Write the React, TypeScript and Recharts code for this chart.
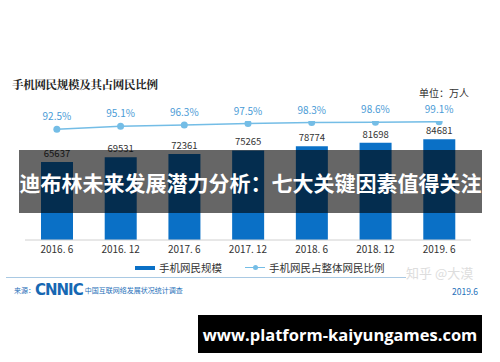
import React from "react";
import { ComposedChart, Bar, Line, XAxis, YAxis, LabelList } from "recharts";

const periods = ["2016. 6", "2016. 12", "2017. 6", "2017. 12", "2018. 6", "2018. 12", "2019. 6"];
const mobileUsers = [65637, 69531, 72361, 75265, 78774, 81698, 84681];
const mobileShare = [92.5, 95.1, 96.3, 97.5, 98.3, 98.6, 99.1];

const data = periods.map((p, i) => ({
  period: p,
  users: mobileUsers[i],
  share: mobileShare[i],
}));

const CJK = '"Noto Sans CJK SC", "Noto Sans", sans-serif';
const BAR = "#0a70c6";
const LINE = "#74bde6";

export default function App() {
  return (
    <div
      style={{
        position: "absolute",
        left: 0,
        top: 0,
        width: 500,
        height: 362,
        background: "#fff",
        overflow: "hidden",
        fontFamily: CJK,
      }}
    >
      <div
        style={{
          position: "absolute",
          left: 12,
          top: 76,
          fontSize: 11.5,
          fontWeight: 700,
          color: "#222",
          fontFamily: '"Noto Serif CJK SC", "Noto Sans CJK SC", serif',
          letterSpacing: -0.3,
        }}
      >
        手机网民规模及其占网民比例
      </div>
      <div style={{ position: "absolute", left: 419, top: 85, fontSize: 10, color: "#333" }}>
        单位：万人
      </div>

      <ComposedChart
        width={500}
        height={362}
        data={data}
        margin={{ top: 121, right: 29, bottom: 102, left: 25 }}
        style={{ position: "absolute", left: 0, top: 0 }}
      >
        <XAxis
          dataKey="period"
          axisLine={{ stroke: "#d0d0d0" }}
          tickLine={false}
          tickSize={0}
          tickMargin={6}
          height={20}
          interval={0}
          tick={{ fontSize: 10, fill: "#333", fontFamily: CJK }}
        />
        <YAxis yAxisId="users" hide domain={[0, 100000]} />
        <YAxis yAxisId="share" hide orientation="right" domain={[-3.8, 99.7]} allowDataOverflow />
        <Bar yAxisId="users" dataKey="users" fill={BAR} barSize={32} isAnimationActive={false}>
          <LabelList dataKey="users" position="top" offset={5} fill="#333" fontSize={9.5} fontFamily={CJK} />
        </Bar>
        <Line
          yAxisId="share"
          dataKey="share"
          stroke={LINE}
          strokeWidth={1.5}
          dot={{ r: 3.5, fill: LINE, stroke: LINE, strokeWidth: 0 }}
          isAnimationActive={false}
        >
          <LabelList
            dataKey="share"
            position="top"
            offset={9}
            fill="#4a9bd6"
            fontSize={10}
            fontFamily={CJK}
            formatter={(v: number) => `${v}%`}
          />
        </Line>
      </ComposedChart>

      {/* legend */}
      <div style={{ position: "absolute", left: 135, top: 260, display: "flex", alignItems: "center", fontSize: 10.5, color: "#333" }}>
        <span style={{ display: "inline-block", width: 20, height: 4, background: BAR, marginRight: 4 }} />
        <span>手机网民规模</span>
        <span style={{ position: "relative", display: "inline-block", width: 20, height: 1.5, background: LINE, marginLeft: 23, marginRight: 4 }}>
          <span style={{ position: "absolute", left: 8, top: -2, width: 5, height: 5, borderRadius: 3, background: LINE }} />
        </span>
        <span>手机网民占整体网民比例</span>
      </div>

      {/* footer */}
      <div style={{ position: "absolute", left: 6, top: 277, width: 400, height: 1, background: "#a9c9e3" }} />
      <div style={{ position: "absolute", left: 14, top: 281, display: "flex", alignItems: "center", color: "#1e6fb9" }}>
        <span style={{ fontSize: 7 }}>来源：</span>
        <span style={{ fontSize: 15, fontWeight: 900, fontFamily: '"DejaVu Sans", sans-serif', letterSpacing: -1, marginRight: 2, color: "#1668b3" }}>
          CNNIC
        </span>
        <span style={{ fontSize: 7 }}>中国互联网络发展状况统计调查</span>
      </div>
      <div style={{ position: "absolute", left: 406, top: 265, fontSize: 13, lineHeight: "15px", color: "#ddd" }}>知乎 @大漠</div>
      <div style={{ position: "absolute", left: 452, top: 286, fontSize: 8.5, lineHeight: "10px", color: "#1e6fb9" }}>2019.6</div>

      {/* overlay banner */}
      <div
        style={{
          position: "absolute",
          left: 19,
          top: 150,
          width: 463,
          height: 63,
          background: "rgba(0,0,0,0.6)",
          color: "#fff",
          fontSize: 21,
          fontWeight: 700,
          display: "flex",
          alignItems: "center",
          justifyContent: "center",
          whiteSpace: "nowrap",
        }}
      >
        迪布林未来发展潜力分析：七大关键因素值得关注
      </div>

      <div
        style={{
          position: "absolute",
          left: 198,
          top: 315,
          width: 284,
          height: 38,
          background: "#000",
          color: "#fff",
          fontSize: 16.5,
          fontWeight: 700,
          fontFamily: '"Open Sans", "DejaVu Sans", sans-serif',
          display: "flex",
          alignItems: "center",
          justifyContent: "center",
        }}
      >
        www.platform-kaiyungames.com
      </div>
    </div>
  );
}
